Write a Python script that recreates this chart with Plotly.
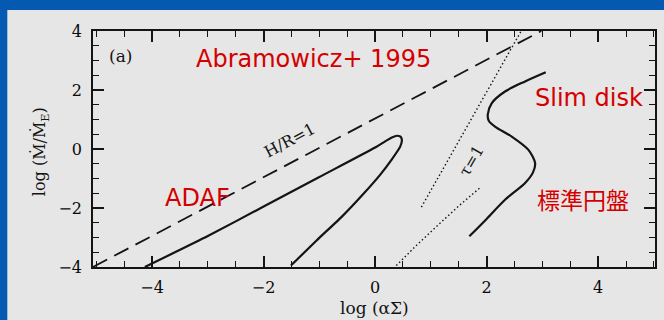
import plotly.graph_objects as go

# ---- data ----
hr_x = [-5.06, 2.98]
hr_y = [-4.0, 4.0]

tau_up_x = [0.83, 1.14, 1.50, 1.99, 2.30, 2.62]
tau_up_y = [-1.97, -0.93, 0.27, 1.90, 2.95, 4.0]
tau_lo_x = [0.38, 0.75, 1.14, 1.50, 1.89]
tau_lo_y = [-3.95, -3.25, -2.56, -1.93, -1.30]

adaf_x = [-4.13, -3.0, -2.0, -1.0, 0.0, 0.18, 0.30, 0.39, 0.46, 0.48, 0.45, 0.30, 0.10, -0.20, -0.60, -1.05, -1.51]
adaf_y = [-4.0, -2.95, -1.95, -0.95, 0.05, 0.26, 0.39, 0.45, 0.41, 0.30, 0.08, -0.35, -0.85, -1.50, -2.30, -3.10, -3.95]

slim_x = [1.69, 2.0, 2.33, 2.69, 2.83, 2.87, 2.75, 2.45, 2.15, 2.04, 2.02, 2.09, 2.33, 2.69, 3.06]
slim_y = [-2.96, -2.37, -1.72, -1.15, -0.8, -0.48, -0.03, 0.42, 0.76, 0.95, 1.16, 1.55, 1.95, 2.29, 2.60]

x_ticks = [-4, -2, 0, 2, 4]
y_ticks = [-4, -2, 0, 2, 4]

# ---- layout geometry ----
W, H = 664, 320
L, R, T, B = 93, 7, 31, 53
pw, ph = W - L - R, H - T - B
XR = [-5.06, 5.02]
YR = [-4.0, 4.0]


def pxp(px):
    return (px - L) / pw


def pyp(py):
    return (H - B - py) / ph


ink = "#141414"
red = "#d40000"
serif = "DejaVu Serif"
sans = "DejaVu Sans"

fig = go.Figure()
fig.add_trace(go.Scatter(x=hr_x, y=hr_y, mode="lines",
                         line=dict(color=ink, width=1.8, dash="16px,8px")))
fig.add_trace(go.Scatter(x=tau_up_x, y=tau_up_y, mode="lines",
                         line=dict(color=ink, width=1.4, dash="1.5px,2.5px")))
fig.add_trace(go.Scatter(x=tau_lo_x, y=tau_lo_y, mode="lines",
                         line=dict(color=ink, width=1.4, dash="1.5px,2.5px")))
fig.add_trace(go.Scatter(x=adaf_x, y=adaf_y, mode="lines",
                         line=dict(color=ink, width=2.2, shape="spline", smoothing=0.5)))
fig.add_trace(go.Scatter(x=slim_x, y=slim_y, mode="lines",
                         line=dict(color=ink, width=2.2, shape="spline", smoothing=0.8)))

axis_common = dict(
    showgrid=False, zeroline=False, showline=True, linecolor=ink, linewidth=1.6,
    mirror="ticks", ticks="inside", ticklen=11, tickwidth=1.5, tickcolor=ink,
    tickfont=dict(family=serif, size=16, color="#0a0a0a"),
    minor=dict(dtick=0.5, ticks="inside", ticklen=6, tickwidth=1.3, tickcolor=ink),
)
fig.update_xaxes(range=XR, tickvals=x_ticks, ticktext=[str(v).replace("-", "−") for v in x_ticks],
                 ticklabelstandoff=5, **axis_common)
fig.update_yaxes(range=YR, tickvals=y_ticks, ticktext=[str(v).replace("-", "−") for v in y_ticks],
                 ticklabelstandoff=6, **axis_common)

ann = []
# chart texts
ann.append(dict(x=pxp(121), y=pyp(56), text="(a)", font=dict(family=serif, size=17, color=ink)))
ann.append(dict(x=pxp(290), y=pyp(140), text="H/R=1", textangle=-28,
                font=dict(family=serif, size=16, color=ink)))
ann.append(dict(x=pxp(472), y=pyp(161), text="τ=1", textangle=-60,
                font=dict(family=serif, size=16, color=ink)))
# axis titles
ann.append(dict(x=pxp(376), y=pyp(308), text="log (αΣ)", font=dict(family=serif, size=17, color=ink)))
ann.append(dict(x=pxp(40), y=pyp(152), text="log (Ṁ/Ṁ<sub>E</sub>)", textangle=-90,
                font=dict(family=serif, size=16, color=ink)))
# red labels
ann.append(dict(x=pxp(194), y=pyp(59), xanchor="left", text="Abramowicz+ 1995",
                font=dict(family=sans, size=24, color=red)))
ann.append(dict(x=pxp(535), y=pyp(98), xanchor="left", text="Slim disk",
                font=dict(family=sans, size=24, color=red)))
ann.append(dict(x=pxp(163), y=pyp(198), xanchor="left", text="ADAF",
                font=dict(family=sans, size=24, color=red)))
ann.append(dict(x=pxp(537), y=pyp(199), xanchor="left", text="標準円盤",
                font=dict(family="Noto Sans CJK JP", size=23, color=red)))
for a in ann:
    a.setdefault("xanchor", "center")
    a.update(xref="paper", yref="paper", showarrow=False, yanchor="middle")

fig.update_layout(
    width=W, height=H, margin=dict(l=L, r=R, t=T, b=B, pad=0),
    paper_bgcolor="#0659b0", plot_bgcolor="rgba(0,0,0,0)",
    showlegend=False, annotations=ann,
    shapes=[dict(type="rect", xref="paper", yref="paper", layer="below",
                 x0=(7 - L) / pw, x1=(W - L) / pw + 0.01,
                 y0=(H - B - H) / ph - 0.01, y1=(H - B - 10) / ph,
                 fillcolor="#e6e6e6", line=dict(width=0))],
)
fig.write_html("out.html")
